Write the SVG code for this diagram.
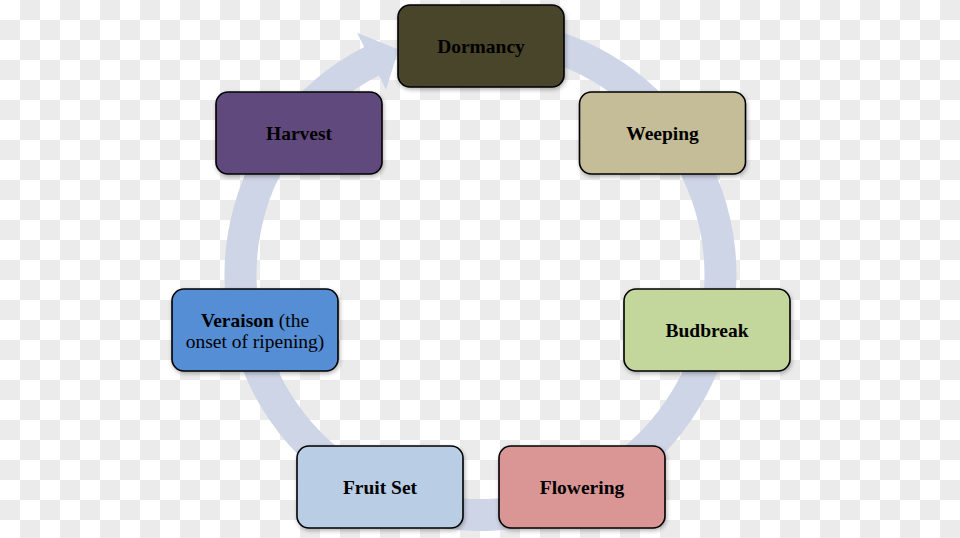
<svg xmlns="http://www.w3.org/2000/svg" width="960" height="538" viewBox="0 0 960 538">
<defs>
<pattern id="checker" patternUnits="userSpaceOnUse" width="40" height="40">
<rect width="40" height="40" fill="#ffffff"/>
<rect x="20" y="0" width="20" height="20" fill="#ebebeb"/>
<rect x="0" y="20" width="20" height="20" fill="#ebebeb"/>
</pattern>
<filter id="shadow" x="-10%" y="-10%" width="125%" height="130%">
<feGaussianBlur in="SourceAlpha" stdDeviation="2"/>
<feOffset dx="1" dy="2" result="b"/>
<feComponentTransfer><feFuncA type="linear" slope="0.3"/></feComponentTransfer>
<feMerge><feMergeNode/><feMergeNode in="SourceGraphic"/></feMerge>
</filter>
</defs>
<style>
.box{stroke:#000;stroke-width:1.6;filter:url(#shadow)}
.lbl{font-family:"Liberation Serif","DejaVu Serif",serif;font-size:19.5px;font-weight:bold;fill:#000;text-anchor:middle}
.reg{font-weight:normal}
.ring{fill:#ced5e6}
</style>
<rect width="960" height="538" fill="url(#checker)"/>
<g id="connectors">
<path class="ring" d="M524.95,22.89 A256,256 0 1 1 364.28,46.90 L357.01,32.65 L398.4,49.5 L386.07,89.67 L378.81,75.41 A224,224 0 1 0 519.4,54.4 Z"/>
</g>
<g id="dormancy">
<rect class="box" x="398" y="5" width="166" height="82" rx="12" fill="#4a442a"/>
<text class="lbl" x="481" y="53">Dormancy</text>
</g>
<g id="weeping">
<rect class="box" x="579.5" y="92" width="166" height="82" rx="12" fill="#c4bd97"/>
<text class="lbl" x="662.5" y="140">Weeping</text>
</g>
<g id="budbreak">
<rect class="box" x="624" y="289" width="166" height="82" rx="12" fill="#c3d69b"/>
<text class="lbl" x="707" y="337">Budbreak</text>
</g>
<g id="flowering">
<rect class="box" x="499" y="446" width="166" height="82" rx="12" fill="#d99694"/>
<text class="lbl" x="582" y="494">Flowering</text>
</g>
<g id="fruitset">
<rect class="box" x="297" y="446" width="166" height="82" rx="12" fill="#b9cde5"/>
<text class="lbl" x="380" y="494">Fruit Set</text>
</g>
<g id="veraison">
<rect class="box" x="172" y="289" width="166" height="82" rx="12" fill="#558ed5"/>
<text class="lbl" x="255" y="327">Veraison<tspan class="reg"> (the</tspan></text>
<text class="lbl reg" x="255" y="348">onset of ripening)</text>
</g>
<g id="harvest">
<rect class="box" x="216" y="92" width="166" height="82" rx="12" fill="#604a7b"/>
<text class="lbl" x="299" y="140">Harvest</text>
</g>
</svg>
